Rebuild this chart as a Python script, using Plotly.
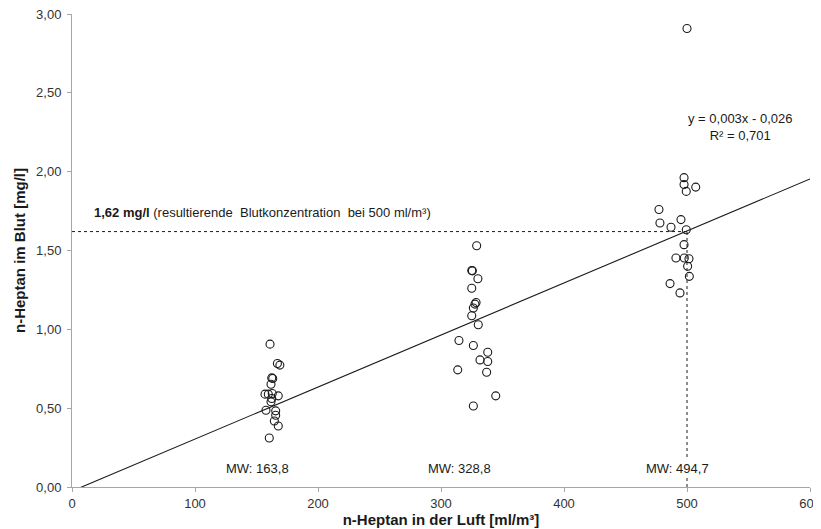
import plotly.graph_objects as go

# Group 1 (MW 163,8)
x_g1 = [161.0, 167.0, 169.0, 162.4, 163.2, 161.8, 156.9, 159.6, 162.8, 167.7, 162.4, 161.8, 157.7, 165.6, 165.6, 164.5, 167.7, 160.4]
y_g1 = [0.906, 0.783, 0.773, 0.692, 0.688, 0.652, 0.589, 0.589, 0.593, 0.578, 0.561, 0.540, 0.487, 0.483, 0.455, 0.419, 0.387, 0.311]
# Group 2 (MW 328,8)
x_g2 = [329.0, 325.0, 325.5, 330.0, 325.0, 328.5, 327.6, 326.3, 325.0, 330.3, 314.6, 326.3, 338.0, 331.7, 338.0, 313.6, 337.1, 344.5, 326.3]
y_g2 = [1.530, 1.373, 1.371, 1.321, 1.261, 1.170, 1.160, 1.135, 1.086, 1.029, 0.929, 0.897, 0.855, 0.806, 0.796, 0.743, 0.728, 0.578, 0.514]
# Group 3 (MW 494,7)
x_g3 = [500.0, 497.6, 497.6, 507.1, 499.4, 477.2, 478.0, 495.1, 487.0, 499.4, 497.6, 491.0, 497.8, 501.6, 500.5, 501.9, 486.2, 494.3]
y_g3 = [2.908, 1.962, 1.919, 1.902, 1.875, 1.760, 1.674, 1.696, 1.647, 1.632, 1.537, 1.452, 1.452, 1.448, 1.400, 1.336, 1.290, 1.231]

group_means = [163.8, 328.8, 494.7]
group_labels = ["MW: 163,8", "MW: 328,8", "MW: 494,7"]

trend_slope = 0.0033
trend_intercept = -0.026
trend_x = [0, 600]
ref_air = 500
ref_blood = 1.62

x_ticks = [0, 100, 200, 300, 400, 500, 600]
y_ticks = [0, 0.5, 1.0, 1.5, 2.0, 2.5, 3.0]

FONT = "Liberation Sans, Arial, sans-serif"
INK = "#1a1a1a"

fig = go.Figure()

xs = x_g1 + x_g2 + x_g3
ys = y_g1 + y_g2 + y_g3

# reference dashed lines
fig.add_trace(go.Scatter(x=[0, ref_air], y=[ref_blood, ref_blood], mode="lines",
                         line=dict(color=INK, width=1, dash="3px,3px"), showlegend=False, hoverinfo="skip"))
fig.add_trace(go.Scatter(x=[ref_air, ref_air], y=[0, ref_blood], mode="lines",
                         line=dict(color=INK, width=1, dash="3px,3px"), showlegend=False, hoverinfo="skip"))

fig.add_trace(go.Scatter(
    x=trend_x, y=[trend_slope * v + trend_intercept for v in trend_x],
    mode="lines", line=dict(color=INK, width=1.1), showlegend=False, hoverinfo="skip"))

fig.add_trace(go.Scatter(
    x=xs, y=ys, mode="markers",
    marker=dict(symbol="circle-open", size=8, color=INK, line=dict(width=1.1, color=INK)),
    showlegend=False, hoverinfo="x+y"))

annotations = []
label_shift = [-12.6, -13.9, -2.8]
for m, lab, s in zip(group_means, group_labels, label_shift):
    annotations.append(dict(x=m + s, y=0.115, text=lab, showarrow=False, bgcolor="white",
                            font=dict(family=FONT, size=13, color=INK), xanchor="center", yanchor="middle"))

annotations.append(dict(x=0.027, xref="paper", y=1.738,
                        text="<b>1,62 mg/l</b> (resultierende\u00a0 Blutkonzentration\u00a0 bei 500 ml/m³)",
                        showarrow=False, xanchor="left", yanchor="middle",
                        font=dict(family=FONT, size=13, color=INK)))
annotations.append(dict(x=543, y=2.285, text="y = 0,003x - 0,026<br>R² = 0,701", showarrow=False,
                        xanchor="center", yanchor="middle", align="center",
                        font=dict(family=FONT, size=13, color=INK)))

# The page body has an 8px margin, so the figure is sized and offset to fill the 821x529 window.
fig.update_layout(
    width=813, height=521,
    margin=dict(l=64, r=11, t=6, b=42),
    paper_bgcolor="white", plot_bgcolor="white",
    separators=",.",
    font=dict(family=FONT, size=13, color="#333333"),
    annotations=annotations,
    xaxis=dict(range=[0, 600], tickvals=x_ticks, showgrid=False, zeroline=False,
               showline=True, linecolor="#a6a6a6", linewidth=1, automargin=False,
               ticks="outside", ticklen=4, tickcolor="#a6a6a6", ticklabeloverflow="allow",
               tickfont=dict(family=FONT, size=13, color="#333333"),
               title=dict(text="<b>n-Heptan in der Luft [ml/m³]</b>", standoff=4,
                          font=dict(family=FONT, size=15, color=INK))),
    yaxis=dict(range=[0, 3], tickvals=y_ticks, tickformat=".2f", showgrid=False, zeroline=False,
               showline=True, linecolor="#a6a6a6", linewidth=1, automargin=False,
               ticks="outside", ticklen=4, tickcolor="#a6a6a6", ticklabelstandoff=3,
               ticklabeloverflow="allow",
               tickfont=dict(family=FONT, size=13, color="#333333"),
               title=dict(text="<b>n-Heptan im Blut [mg/l]</b>", standoff=6,
                          font=dict(family=FONT, size=15, color=INK))),
)

fig.write_html("out.html")
